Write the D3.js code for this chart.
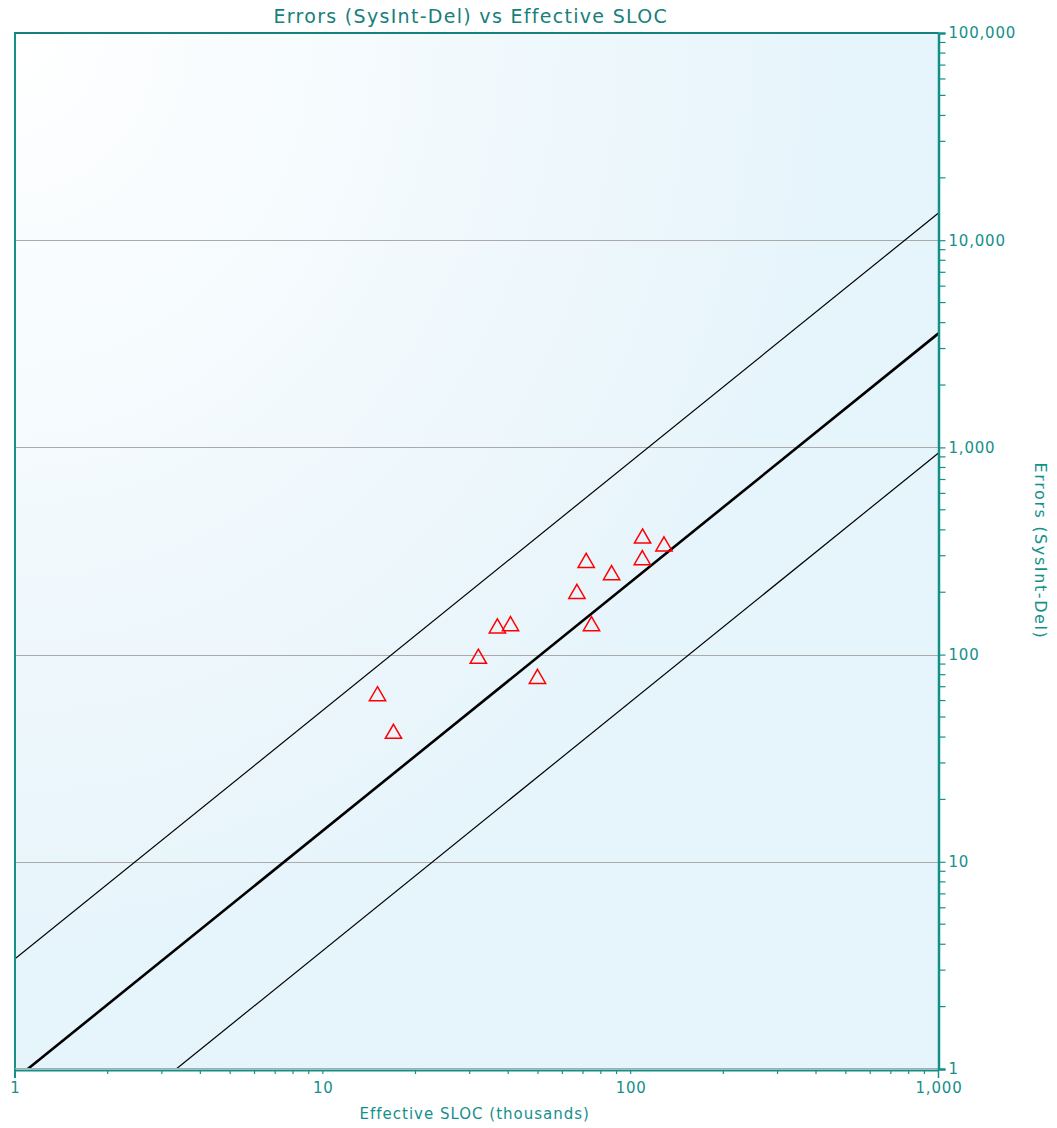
<!DOCTYPE html>
<html><head><meta charset="utf-8">
<script src="https://cdn.jsdelivr.net/npm/d3@7"></script>
<style>body{margin:0;background:#fff;} svg{display:block;}</style>
</head><body>
<svg id="c" width="1057" height="1128"></svg>
<script>
const title = "Errors (SysInt-Del) vs Effective SLOC";
const xLabel = "Effective SLOC (thousands)";
const yLabel = "Errors (SysInt-Del)";
const xTicks = [1, 10, 100, 1000];
const yTicks = [1, 10, 100, 1000, 10000, 100000];
const sloc   = [15.05, 16.96, 32.0, 36.9, 40.7, 49.8, 66.9, 71.7, 74.6, 86.7, 109.3, 109.1, 128.3];
const errors = [63.8, 42.0, 96.7, 135.5, 139, 77.3, 199, 280.8, 139, 244.9, 368, 289.3, 337];
const fitX   = [1.1, 1000];
const fitY   = [1, 3551];
const upperX = [1, 1000];
const upperY = [3.40, 13530];
const lowerX = [3.34, 1000];
const lowerY = [1, 940];

const teal = "#14908b", tealDark = "#16807c";
const font = "DejaVu Sans, Verdana, sans-serif";
const L = 15, R = 938.5, T = 33, B = 1069;
const svg = d3.select("#c");
const x = d3.scaleLog().domain([1, 1000]).range([L, R]);
const y = d3.scaleLog().domain([1, 100000]).range([B, T]);

const defs = svg.append("defs");
const g = defs.append("radialGradient").attr("id","bg").attr("cx","0").attr("cy","0").attr("r","0.9").attr("gradientUnits","objectBoundingBox");
g.append("stop").attr("offset","0").attr("stop-color","#ffffff");
g.append("stop").attr("offset","1").attr("stop-color","#e6f4fb");
defs.append("clipPath").attr("id","clip").append("rect").attr("x",L).attr("y",T).attr("width",R-L).attr("height",B-T);

svg.append("rect").attr("x",L).attr("y",T).attr("width",R-L).attr("height",B-T).attr("fill","url(#bg)");

// gridlines
svg.append("g").selectAll("line").data(yTicks.filter(v=>v>1 && v<100000)).join("line")
  .attr("x1",L).attr("x2",R).attr("y1",d=>Math.round(y(d))+0.5).attr("y2",d=>Math.round(y(d))+0.5)
  .attr("stroke","#aaaaaa").attr("stroke-width",1.2);

// lines
const line = d3.line().x(d=>x(d[0])).y(d=>y(d[1]));
const lg = svg.append("g").attr("clip-path","url(#clip)");
lg.append("path").attr("d", line(d3.zip(upperX, upperY))).attr("stroke","#000").attr("stroke-width",1.2).attr("fill","none");
lg.append("path").attr("d", line(d3.zip(lowerX, lowerY))).attr("stroke","#000").attr("stroke-width",1.2).attr("fill","none");
lg.append("path").attr("d", line(d3.zip(fitX, fitY))).attr("stroke","#000").attr("stroke-width",2.6).attr("fill","none");

// points
const tri = d3.symbol().type(d3.symbolTriangle).size(115);
svg.append("g").selectAll("path").data(d3.zip(sloc, errors)).join("path")
  .attr("d", tri).attr("transform", d=>`translate(${x(d[0])},${y(d[1])+1})`)
  .attr("fill","none").attr("stroke","#ff0000").attr("stroke-width",1.5);

// frame
svg.append("line").attr("x1",L-1).attr("x2",R).attr("y1",T).attr("y2",T).attr("stroke",tealDark).attr("stroke-width",2);
svg.append("line").attr("x1",L).attr("x2",L).attr("y1",T).attr("y2",B+9).attr("stroke",teal).attr("stroke-width",2);
svg.append("line").attr("x1",L).attr("x2",R).attr("y1",B-0.5).attr("y2",B-0.5).attr("stroke","#aaaaaa").attr("stroke-width",1);

// bottom axis
const xAxis = d3.axisBottom(x).tickValues(xTicks).tickFormat(d3.format(",")).tickSize(0).tickPadding(12);
const xa = svg.append("g").attr("transform",`translate(0,${B+1})`).call(xAxis);
xa.select(".domain").attr("stroke",teal).attr("stroke-width",2);
xa.selectAll("text").attr("fill",teal).attr("font-family",font).attr("font-size",15).attr("letter-spacing","0.8px");
const xMinor = [];
for (let d=1; d<1000; d*=10) for (let k=2;k<=9;k++) xMinor.push(d*k);
xMinor.push(10,100);
svg.append("g").selectAll("line").data(xMinor).join("line")
  .attr("x1",d=>x(d)).attr("x2",d=>x(d)).attr("y1",B+1).attr("y2",B+5).attr("stroke",teal).attr("stroke-width",1.2);
svg.append("line").attr("x1",x(1000)).attr("x2",x(1000)).attr("y1",B).attr("y2",B+9).attr("stroke",teal).attr("stroke-width",1.5);

// right axis
const yAxis = d3.axisRight(y).tickValues(yTicks).tickFormat(d3.format(",")).tickSize(7).tickPadding(3);
const ya = svg.append("g").attr("transform",`translate(${R},0)`).call(yAxis);
ya.select(".domain").attr("stroke",teal).attr("stroke-width",2.5);
ya.selectAll(".tick line").attr("stroke",teal).attr("stroke-width",1.2);
ya.selectAll("text").attr("fill",teal).attr("font-family",font).attr("font-size",15).attr("letter-spacing","0.8px");
const yMinor = [];
for (let d=1; d<100000; d*=10) for (let k=2;k<=9;k++) yMinor.push(d*k);
svg.append("g").selectAll("line").data(yMinor).join("line")
  .attr("x1",R).attr("x2",R+7).attr("y1",d=>y(d)).attr("y2",d=>y(d)).attr("stroke",teal).attr("stroke-width",1.2);

// titles
svg.append("text").attr("x",(L+R)/2 - 6).attr("y",23).attr("text-anchor","middle").attr("fill",tealDark)
  .attr("font-family",font).attr("font-size",19).attr("letter-spacing","1.3px").text(title);
svg.append("text").attr("x",(L+R)/2 - 2).attr("y",1119).attr("text-anchor","middle").attr("fill",teal)
  .attr("font-family",font).attr("font-size",15).attr("letter-spacing","1px").text(xLabel);
svg.append("text").attr("transform",`translate(1035,${(T+B)/2}) rotate(90)`).attr("text-anchor","middle").attr("fill",teal)
  .attr("font-family",font).attr("font-size",16).attr("letter-spacing","1.6px").text(yLabel);
</script>
</body></html>
